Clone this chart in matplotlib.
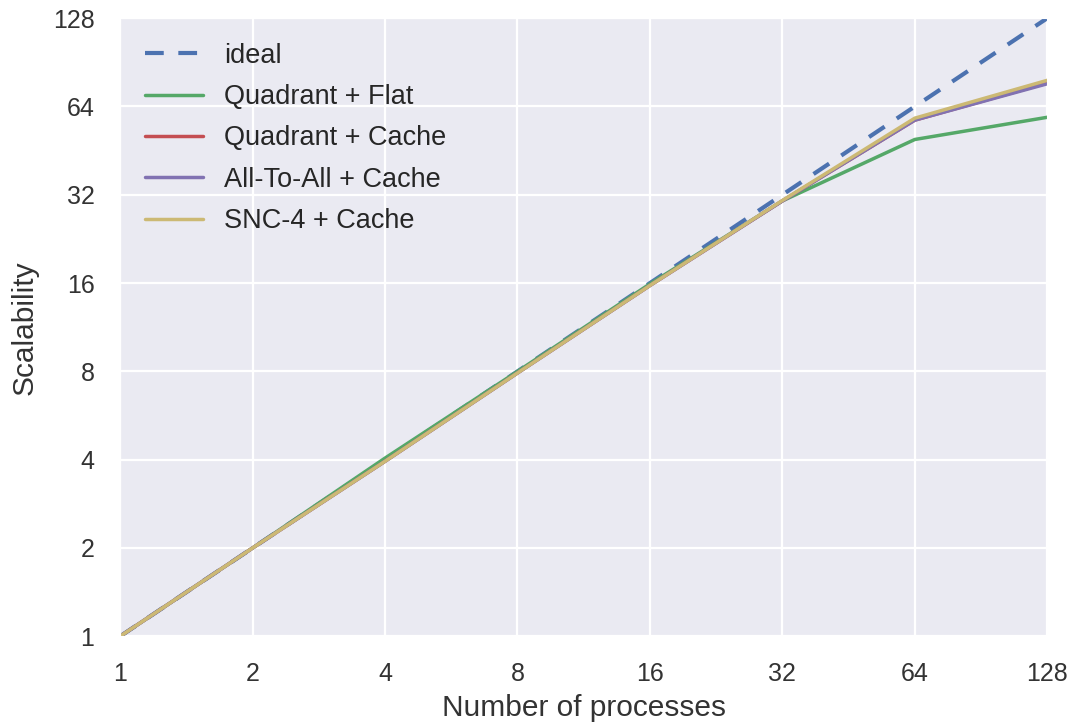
"""Scalability vs number of processes (log2 axes)."""

import matplotlib
matplotlib.use("Agg")
import matplotlib.pyplot as plt
import seaborn as sns

procs = [1, 2, 4, 8, 16, 32, 64, 128]
ideal = [1, 2, 4, 8, 16, 32, 64, 128]
quad_flat = [1.0, 2.0, 4.05, 8.0, 15.9, 30.5, 49.4, 58.8]
quad_cache = [1.0, 2.0, 3.95, 7.9, 15.7, 30.5, 57.5, 77.0]
a2a_cache = [1.0, 2.0, 3.95, 7.9, 15.7, 30.5, 57.5, 76.5]
snc4_cache = [1.0, 2.0, 3.95, 7.9, 15.7, 30.6, 58.4, 78.6]

labels = ["ideal", "Quadrant + Flat", "Quadrant + Cache", "All-To-All + Cache", "SNC-4 + Cache"]
colors = ["#4C72B0", "#55A868", "#C44E52", "#8172B2", "#CCB974"]

sns.set_style("darkgrid", {"grid.color": "white"})
plt.rcParams["font.family"] = ["Liberation Sans", "DejaVu Sans"]

fig, ax = plt.subplots(figsize=(10.73, 7.28), dpi=100)
ax.plot(procs, ideal, "--", color=colors[0], lw=3, dashes=(4.5, 3.5), label=labels[0])
series = [quad_flat, quad_cache, a2a_cache, snc4_cache]
for vals, c, lab in zip(series, colors[1:], labels[1:]):
    ax.plot(procs, vals, color=c, lw=2.5, label=lab)

ax.set_xscale("log", base=2)
ax.set_yscale("log", base=2)
ax.set_xlim(1, 128)
ax.set_ylim(1, 128)
ax.set_xticks(procs)
ax.set_xticklabels([str(p) for p in procs])
ax.set_yticks(procs)
ax.set_yticklabels([str(p) for p in procs])
ax.minorticks_off()
ax.grid(True, color="white", lw=1.6)
ax.tick_params(labelsize=18, colors="#333333", pad=15)
ax.set_xlabel("Number of processes", fontsize=21.5, color="#333333", labelpad=6)
ax.set_ylabel("Scalability", fontsize=21.5, color="#333333", labelpad=10)
ax.legend(loc="upper left", fontsize=19.5, frameon=False, handlelength=2.15,
          handletextpad=0.8, labelspacing=0.57)

fig.subplots_adjust(left=0.112, right=0.976, top=0.975, bottom=0.126)
fig.savefig("out.png", dpi=100)
